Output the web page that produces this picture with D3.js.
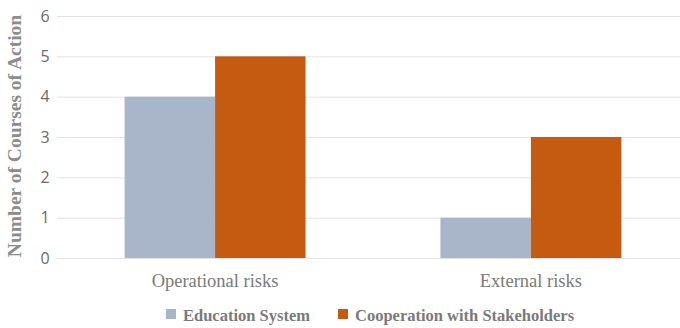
<!DOCTYPE html>
<html>
<head>
<meta charset="utf-8">
<script src="https://cdn.jsdelivr.net/npm/d3@7"></script>
<style>
  body { margin: 0; background: #fff; }
  svg { display: block; }
</style>
</head>
<body>
<div id="vis"></div>
<script>
// data
var categories = ["Operational risks", "External risks"];
var seriesNames = ["Education System", "Cooperation with Stakeholders"];
var educationSystem = [4, 1];
var cooperation = [5, 3];
var yTicks = [0, 1, 2, 3, 4, 5, 6];
var colors = ["#a9b6c9", "#c55a11"];

var width = 680, height = 328;
var margin = {top: 16, right: -9, bottom: 70, left: 57};

var svg = d3.select("#vis").append("svg")
    .attr("width", width)
    .attr("height", height);

var x = d3.scaleBand()
    .domain(categories)
    .range([margin.left, width - margin.right])
    .paddingInner(0.427)
    .paddingOuter(0.214);

var x1 = d3.scaleBand()
    .domain(seriesNames)
    .range([0, x.bandwidth()]);

var y = d3.scaleLinear()
    .domain([0, 6])
    .range([258, 16]);

/* gridlines */
svg.append("g")
    .selectAll("line")
    .data(yTicks)
    .enter()
    .append("line")
    .attr("x1", margin.left)
    .attr("x2", width)
    .attr("y1", function(d) { return y(d) + 0.5; })
    .attr("y2", function(d) { return y(d) + 0.5; })
    .attr("stroke", "#e3e3e3")
    .attr("stroke-width", 1);

/* y tick labels */
svg.append("g")
    .selectAll("text")
    .data(yTicks)
    .enter()
    .append("text")
    .attr("x", 45)
    .attr("y", function(d) { return y(d); })
    .attr("dy", "0.36em")
    .attr("text-anchor", "middle")
    .attr("font-family", "'Open Sans', sans-serif")
    .attr("font-size", 16)
    .attr("fill", "#6b6b6b")
    .text(function(d) { return d; });

/* y axis title */
svg.append("text")
    .attr("transform", "translate(21," + (y(3) - 1) + ") rotate(-90)")
    .attr("text-anchor", "middle")
    .attr("font-family", "'Liberation Serif', 'DejaVu Serif', serif")
    .attr("font-weight", "bold")
    .attr("font-size", 19.5)
    .attr("fill", "#8c8c8c")
    .text("Number of Courses of Action");

var rows = categories.map(function(c, i) {
    return {cat: c, values: [educationSystem[i], cooperation[i]]};
});

var groups = svg.selectAll(".grp")
    .data(rows)
    .enter()
    .append("g")
    .attr("class", "grp")
    .attr("transform", function(d) { return "translate(" + x(d.cat) + ",0)"; });

groups.selectAll("rect")
    .data(function(d) { return d.values.map(function(v, j) { return {name: seriesNames[j], v: v, j: j}; }); })
    .enter()
    .append("rect")
    .attr("x", function(d) { return x1(d.name); })
    .attr("width", x1.bandwidth())
    .attr("y", function(d) { return y(d.v); })
    .attr("height", function(d) { return y(0) - y(d.v); })
    .attr("fill", function(d) { return colors[d.j]; });

/* category labels */
svg.append("g")
    .selectAll("text")
    .data(categories)
    .enter()
    .append("text")
    .attr("x", function(d) { return x(d) + x.bandwidth() / 2; })
    .attr("y", 287)
    .attr("text-anchor", "middle")
    .attr("font-family", "'Liberation Serif', 'DejaVu Serif', serif")
    .attr("font-size", 18.5)
    .attr("fill", "#7a7a7a")
    .text(function(d) { return d; });

/* legend */
var legendX = [166, 338];
var legend = svg.selectAll(".legend")
    .data(seriesNames)
    .enter()
    .append("g")
    .attr("class", "legend")
    .attr("transform", function(d, i) { return "translate(" + legendX[i] + ",315)"; });

legend.append("rect")
    .attr("x", 0)
    .attr("y", -6)
    .attr("width", 10)
    .attr("height", 10)
    .attr("fill", function(d, i) { return colors[i]; });

legend.append("text")
    .attr("x", 17)
    .attr("y", 0)
    .attr("dy", "0.35em")
    .attr("font-family", "'Liberation Serif', 'DejaVu Serif', serif")
    .attr("font-weight", "bold")
    .attr("font-size", 16.5)
    .attr("fill", "#7a7a7a")
    .text(function(d) { return d; });
</script>
</body>
</html>
